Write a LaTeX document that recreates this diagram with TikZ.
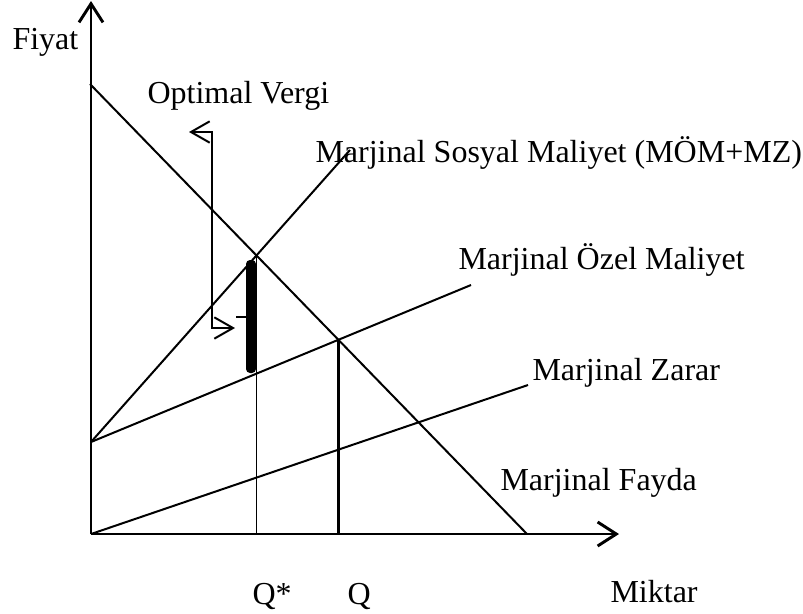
\documentclass[tikz,border=0pt]{standalone}
\usepackage{fontspec}
\setmainfont{Liberation Serif}
\usetikzlibrary{arrows.meta}

\begin{document}
\begin{tikzpicture}[
        x=0.375pt, y=-0.375pt, % one unit is one pixel, y runs downwards
        every node/.style={inner sep=0pt, anchor=base west, font=\fontsize{12}{14}\selectfont},
        axis/.style={line width=1.1pt, -{Straight Barb[length=7pt, width=9pt]}},
        curve/.style={line width=0.75pt},
        taxarrow/.style={line width=0.75pt, {Straight Barb[length=7pt, width=8pt]}-{Straight Barb[length=7pt, width=8pt]}}
    ]
    \useasboundingbox (0,0) rectangle (803,613);

    % Coordinates
    \coordinate (o) at (91,534);
    \coordinate (ytop) at (91,1);
    \coordinate (xend) at (619,534);
    \coordinate (mfa) at (90,84);
    \coordinate (mfb) at (527,534);
    \coordinate (cost) at (91,442);
    \coordinate (msc) at (350,150);
    \coordinate (mpc) at (471,285);
    \coordinate (mz) at (528,385);
    \coordinate (estar) at (intersection of mfa--mfb and cost--msc);
    \coordinate (eq) at (intersection of mfa--mfb and cost--mpc);
    \coordinate (ova) at (189,132);
    \coordinate (ovb) at (212,132);
    \coordinate (ovc) at (212,328);
    \coordinate (ovd) at (235,328);
    \coordinate (ticka) at (236,317);
    \coordinate (tickb) at (247,317);

    % Nodes
    \node (fiyat) at (12,49) {Fiyat};
    \node (vergi) at (147,103) {Optimal Vergi};
    \node (msclabel) at (315,162) {Marjinal Sosyal Maliyet (MÖM+MZ)};
    \node (mpclabel) at (458,269) {Marjinal Özel Maliyet};
    \node (mzlabel) at (532,380) {Marjinal Zarar};
    \node (mflabel) at (500,490) {Marjinal Fayda};
    \node (qstar) at (252,604) {Q*};
    \node (q) at (347,604) {Q};
    \node (miktar) at (610,602) {Miktar};

    % Edges
    \draw[axis] (o) -- (ytop);
    \draw[axis] (o) -- (xend);

    \draw[curve] (mfa) -- (mfb);
    \draw[curve] (cost) -- (msc);
    \draw[curve] (cost) -- (mpc);
    \draw[curve] (o) -- (mz);

    \draw[line width=0.7pt] (estar) -- (estar |- o);
    \draw[line width=1.1pt] (eq) -- (eq |- o);

    \fill[rounded corners=1.5] (246,260) rectangle (256,373);
    \draw[taxarrow] (ova) -- (ovb) -- (ovc) -- (ovd);
    \draw[line width=0.75pt] (ticka) -- (tickb);

\end{tikzpicture}
\end{document}
